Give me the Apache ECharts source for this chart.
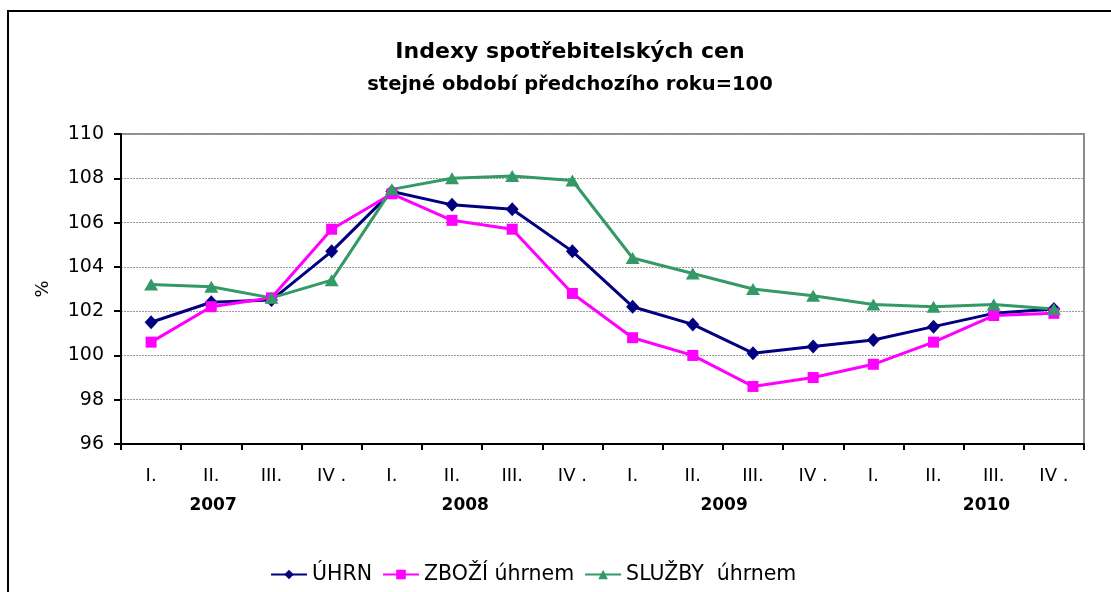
<!DOCTYPE html>
<html>
<head>
<meta charset="utf-8">
<script src="https://cdn.jsdelivr.net/npm/echarts@6/dist/echarts.min.js"></script>
<style>
html,body{margin:0;padding:0;background:#fff;}
#c{width:1111px;height:592px;}
</style>
</head>
<body>
<div id="c"></div>
<script>
const quarters = ["I.","II.","III.","IV .","I.","II.","III.","IV .","I.","II.","III.","IV .","I.","II.","III.","IV ."];
const years = ["2007","2008","2009","2010"];
const yearLabelAt = [1.03, 5.22, 9.52, 13.88];
const uhrn = [101.5, 102.4, 102.5, 104.7, 107.4, 106.8, 106.6, 104.7, 102.2, 101.4, 100.1, 100.4, 100.7, 101.3, 101.9, 102.1];
const zbozi = [100.6, 102.2, 102.6, 105.7, 107.3, 106.1, 105.7, 102.8, 100.8, 100.0, 98.6, 99.0, 99.6, 100.6, 101.8, 101.9];
const sluzby = [103.2, 103.1, 102.6, 103.4, 107.5, 108.0, 108.1, 107.9, 104.4, 103.7, 103.0, 102.7, 102.3, 102.2, 102.3, 102.1];
const seriesNames = ["ÚHRN", "ZBOŽÍ úhrnem", "SLUŽBY  úhrnem"];

const FONT = "'DejaVu Sans', 'Liberation Sans', Arial, sans-serif";
const chart = echarts.init(document.getElementById('c'), null, {renderer: 'canvas'});
chart.setOption({
  backgroundColor: '#ffffff',
  animation: false,
  textStyle: {fontFamily: FONT, color: '#000'},
  graphic: [{
    type: 'rect', shape: {x: 8, y: 11, width: 1120, height: 620},
    style: {fill: 'none', stroke: '#000', lineWidth: 2}, z: -10
  }],
  title: {
    text: 'Indexy spotřebitelských cen',
    subtext: 'stejné období předchozího roku=100',
    left: 565, top: 36, textAlign: 'center', itemGap: 12,
    textStyle: {fontFamily: FONT, fontSize: 22, fontWeight: 'bold', color: '#000'},
    subtextStyle: {fontFamily: FONT, fontSize: 19.5, fontWeight: 'bold', color: '#000'}
  },
  legend: {
    left: 265, top: 559, itemWidth: 36, itemHeight: 12, itemGap: 10,
    textStyle: {fontFamily: FONT, fontSize: 20.5, color: '#000'},
    data: seriesNames
  },
  grid: {
    left: 121, right: 27, top: 134, bottom: 148,
    show: true, borderColor: '#8c8c8c', borderWidth: 2, backgroundColor: 'transparent'
  },
  xAxis: [{
    type: 'category', data: quarters, boundaryGap: true,
    axisLine: {onZero: false, lineStyle: {color: '#000', width: 2}},
    axisTick: {show: true, length: 6, lineStyle: {color: '#000', width: 2}},
    axisLabel: {fontFamily: FONT, fontSize: 18, color: '#000', margin: 23, interval: 0}
  }, {
    type: 'value', min: -0.5, max: 15.5, position: 'bottom',
    axisLine: {show: false, onZero: false}, axisTick: {show: false}, splitLine: {show: false},
    axisLabel: {
      show: true, customValues: yearLabelAt, margin: 53,
      fontFamily: FONT, fontSize: 17, fontWeight: 'bold', color: '#000',
      formatter: function (v) {
        const i = yearLabelAt.findIndex(p => Math.abs(p - v) < 1e-6);
        return i >= 0 ? years[i] : '';
      }
    }
  }],
  yAxis: {
    type: 'value', min: 96, max: 110, interval: 2,
    name: '%', nameLocation: 'middle', nameGap: 69, nameRotate: 90,
    nameTextStyle: {fontFamily: FONT, fontSize: 18, color: '#000'},
    axisLine: {show: true, onZero: false, lineStyle: {color: '#000', width: 2}},
    axisTick: {show: true, length: 7, lineStyle: {color: '#000', width: 2}},
    axisLabel: {fontFamily: FONT, fontSize: 19, color: '#000', margin: 17},
    splitLine: {show: true, lineStyle: {color: '#9a9a9a', type: [2, 1], width: 1}}
  },
  series: [{
    name: seriesNames[0], type: 'line', data: uhrn,
    symbol: 'diamond', symbolSize: [13, 14],
    lineStyle: {color: '#000080', width: 3}, itemStyle: {color: '#000080'}, color: '#000080'
  }, {
    name: seriesNames[1], type: 'line', data: zbozi,
    symbol: 'rect', symbolSize: 11,
    lineStyle: {color: '#ff00ff', width: 3}, itemStyle: {color: '#ff00ff'}, color: '#ff00ff'
  }, {
    name: seriesNames[2], type: 'line', data: sluzby,
    symbol: 'triangle', symbolSize: [14, 12],
    lineStyle: {color: '#339966', width: 3}, itemStyle: {color: '#339966'}, color: '#339966'
  }]
});
</script>
</body>
</html>
